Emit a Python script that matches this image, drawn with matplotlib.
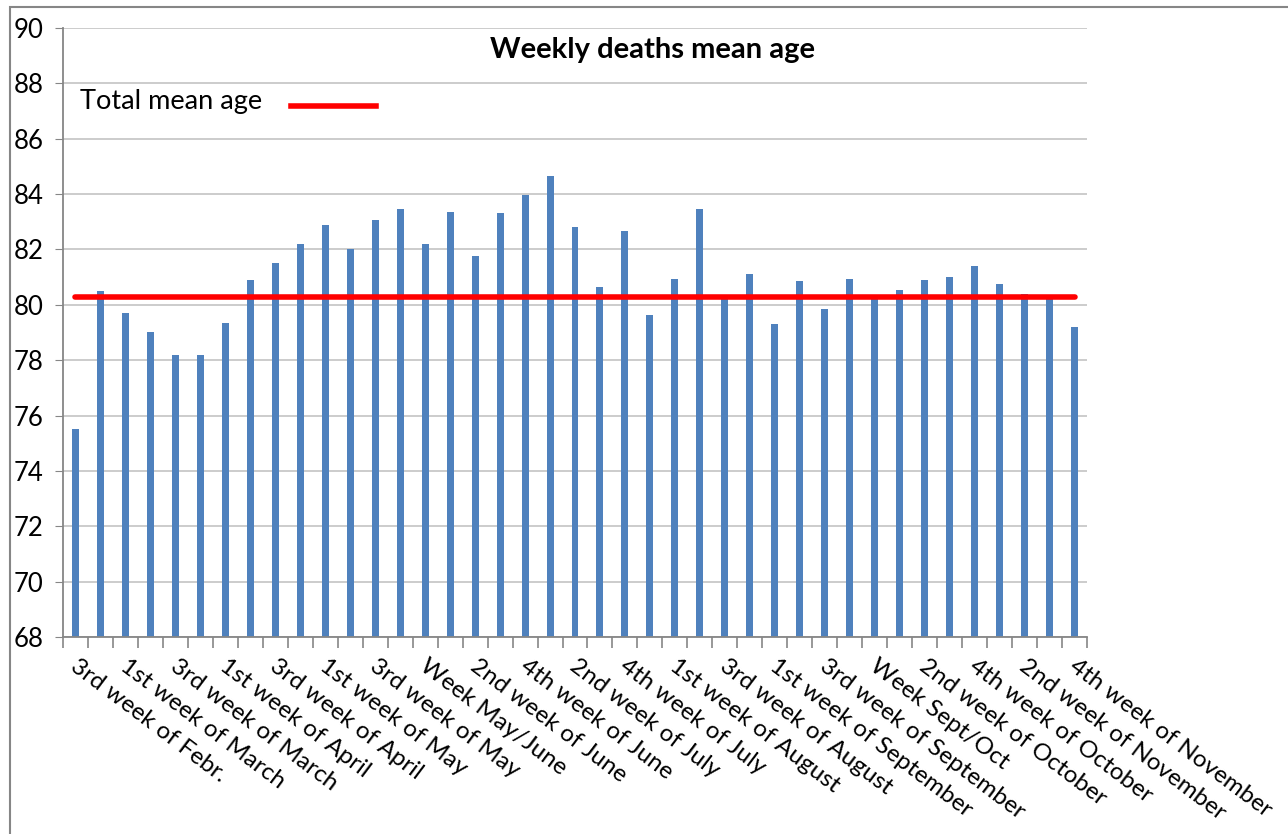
import matplotlib
matplotlib.use("Agg")
import matplotlib.pyplot as plt
from matplotlib.patches import Rectangle
import numpy as np

plt.rcParams['font.family'] = ['Lato', 'DejaVu Sans']

week_labels = ["3rd week of Febr.", "1st week of March", "3rd week of March",
               "1st week of April", "3rd week of April", "1st week of May",
               "3rd week of May", "Week May/June", "2nd week of June",
               "4th week of June", "2nd week of July", "4th week of July",
               "1st week of August", "3rd week of August", "1st week of September",
               "3rd week of September", "Week Sept/Oct", "2nd week of October",
               "4th week of October", "2nd week of November", "4th week of November"]

mean_age = [75.5, 80.5, 79.7, 79.0, 78.2, 78.2, 79.35, 80.9, 81.5, 82.2,
            82.9, 82.0, 83.05, 83.45, 82.2, 83.35, 81.75, 83.3, 83.95, 84.65,
            82.8, 80.65, 82.65, 79.65, 80.95, 83.45, 80.2, 81.1, 79.3, 80.85,
            79.85, 80.95, 80.3, 80.55, 80.9, 81.0, 81.4, 80.75, 80.4, 80.2, 79.2]

total_mean_age = 80.3

fig = plt.figure(figsize=(12.88, 8.34), dpi=100)
ax = fig.add_axes([63/1288, 1-637/834, 1024/1288, 609/834])

n = len(mean_age)
x = np.arange(n)
ax.bar(x, [v - 68 for v in mean_age], bottom=68, width=0.28, color='#4f81bd', zorder=2)
ax.plot(x, [total_mean_age]*n, color='#ff0000', lw=4, solid_capstyle='round', zorder=3)

ax.set_xlim(-0.5, n - 0.5)
ax.set_ylim(68, 90)
ax.set_yticks(np.arange(68, 91, 2))
ax.tick_params(axis='y', labelsize=18.5, length=6, color='#868686', pad=8)
ax.yaxis.grid(True, color='#c8c8c8', lw=1.3, zorder=0)
ax.set_axisbelow(True)

ax.set_xticks(np.arange(-0.5, n, 1))
ax.set_xticklabels([])
ax.tick_params(axis='x', length=8, color='#868686', width=1.2)
for i, lab in enumerate(week_labels):
    ax.text(2*i + 0.15, 67.35, lab, rotation=-37, rotation_mode='anchor', ha='left', va='top',
            fontsize=17.5, transform=ax.transData, clip_on=False)

for s in ['top', 'right']:
    ax.spines[s].set_visible(False)
ax.spines['left'].set_color('#868686')
ax.spines['bottom'].set_color('#868686')
ax.spines['left'].set_linewidth(1.3)
ax.spines['bottom'].set_linewidth(1.3)

fig.text(653/1288, 1-50/834, "Weekly deaths mean age", ha='center', va='center',
         fontsize=21, fontweight='bold')
fig.text(80/1288, 1-102/834, "Total mean age", ha='left', va='center', fontsize=19.5)
fig.add_artist(plt.Line2D([291/1288, 376/1288], [1-106/834, 1-106/834], color='#ff0000', lw=4))

fig.add_artist(Rectangle((10/1288, -0.1), 1.2, 1 - 7/834 + 0.1, transform=fig.transFigure,
                         fill=False, edgecolor='#868686', lw=1.5))

fig.savefig("out.png", dpi=100)
